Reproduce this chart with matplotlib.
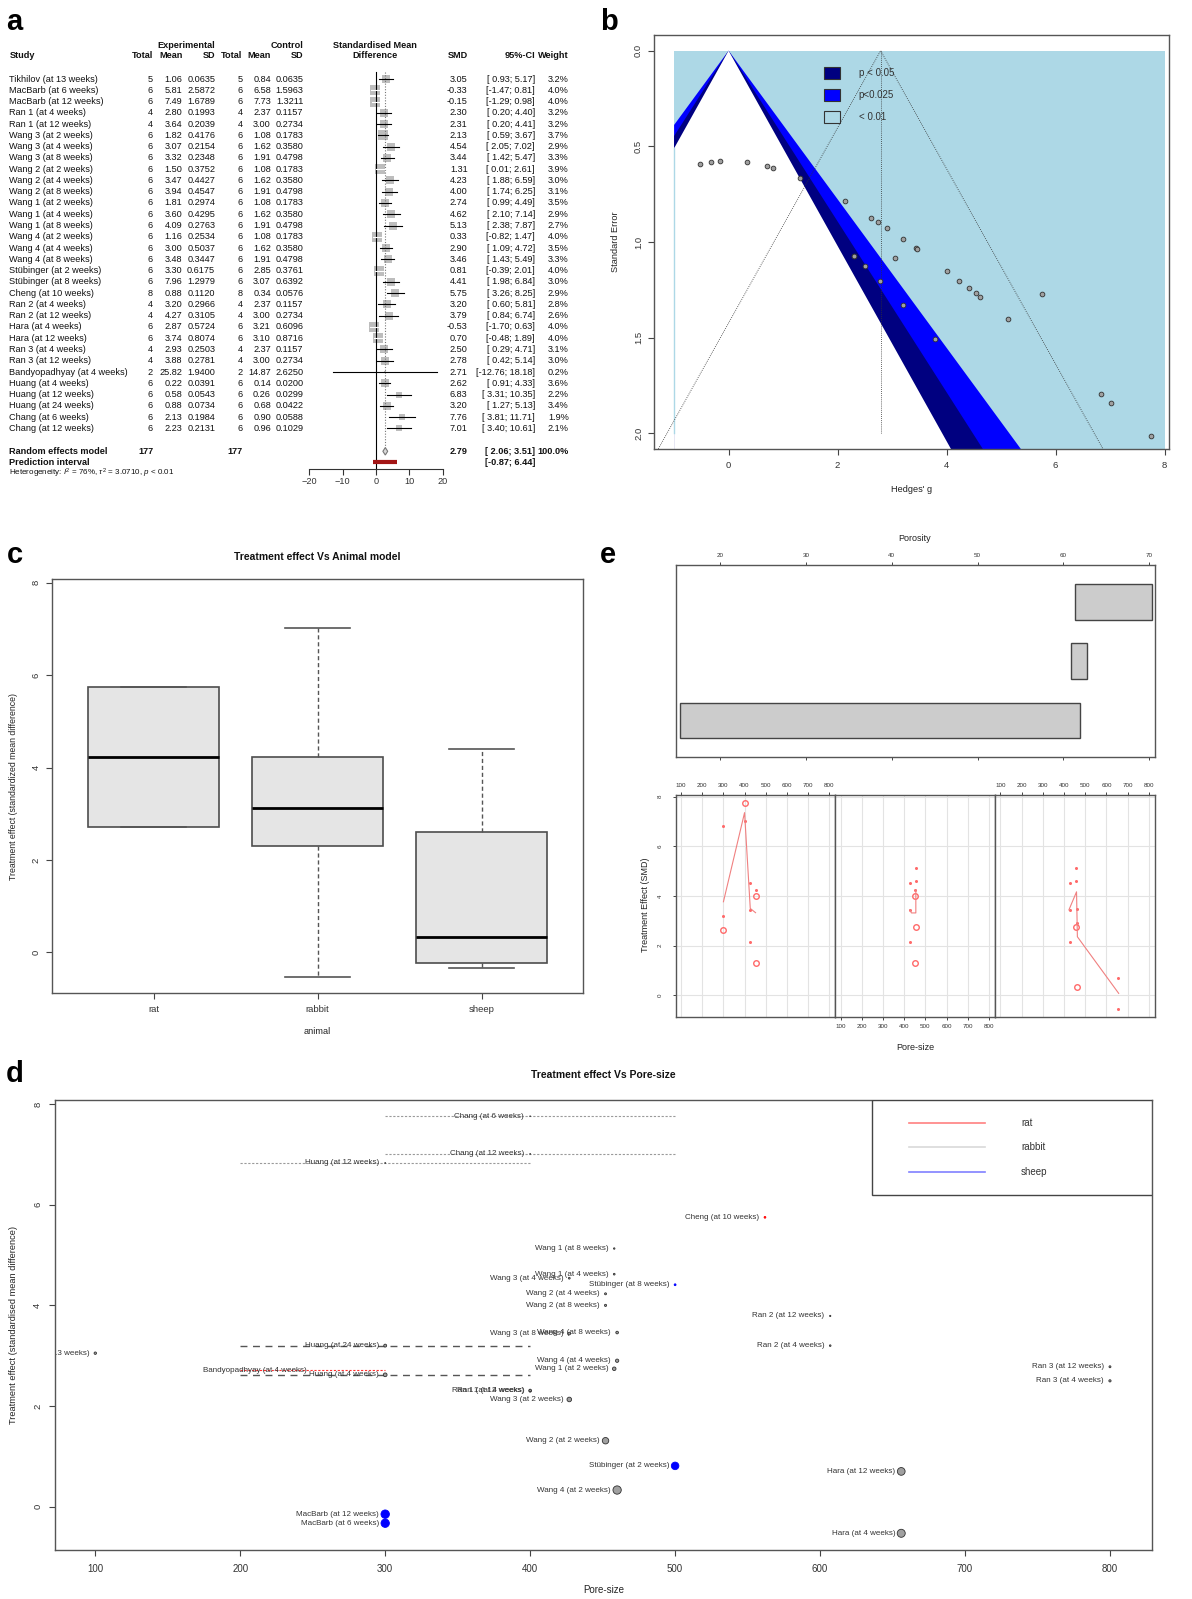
import numpy as np
import matplotlib
matplotlib.use("Agg")
import matplotlib.pyplot as plt
from matplotlib.patches import Rectangle, Polygon
from matplotlib.lines import Line2D
from matplotlib.transforms import offset_copy

plt.rcParams.update({
    "font.family": ["Liberation Sans", "DejaVu Sans"],
    "mathtext.fontset": "custom",
    "mathtext.rm": "Liberation Sans",
    "mathtext.it": "Liberation Sans:italic",
    "axes.edgecolor": "#555555",
    "axes.linewidth": 1.0,
    "xtick.color": "#444444",
    "ytick.color": "#444444",
    "xtick.labelcolor": "#333333",
    "ytick.labelcolor": "#333333",
})

# ------------------------------------------------------------------ data
STUDY = ["Tikhilov (at 13 weeks)", "MacBarb (at 6 weeks)", "MacBarb (at 12 weeks)",
         "Ran 1 (at 4 weeks)", "Ran 1 (at 12 weeks)", "Wang 3 (at 2 weeks)",
         "Wang 3 (at 4 weeks)", "Wang 3 (at 8 weeks)", "Wang 2 (at 2 weeks)",
         "Wang 2 (at 4 weeks)", "Wang 2 (at 8 weeks)", "Wang 1 (at 2 weeks)",
         "Wang 1 (at 4 weeks)", "Wang 1 (at 8 weeks)", "Wang 4 (at 2 weeks)",
         "Wang 4 (at 4 weeks)", "Wang 4 (at 8 weeks)", "Stübinger (at 2 weeks)",
         "Stübinger (at 8 weeks)", "Cheng (at 10 weeks)", "Ran 2 (at 4 weeks)",
         "Ran 2 (at 12 weeks)", "Hara (at 4 weeks)", "Hara (at 12 weeks)",
         "Ran 3 (at 4 weeks)", "Ran 3 (at 12 weeks)", "Bandyopadhyay (at 4 weeks)",
         "Huang (at 4 weeks)", "Huang (at 12 weeks)", "Huang (at 24 weeks)",
         "Chang (at 6 weeks)", "Chang (at 12 weeks)"]
EXP_N = [5, 6, 6, 4, 4, 6, 6, 6, 6, 6, 6, 6, 6, 6, 6, 6, 6, 6, 6, 8, 4, 4, 6, 6, 4, 4, 2, 6, 6, 6, 6, 6]
EXP_MEAN = [1.06, 5.81, 7.49, 2.80, 3.64, 1.82, 3.07, 3.32, 1.50, 3.47, 3.94, 1.81, 3.60, 4.09, 1.16, 3.00,
            3.48, 3.30, 7.96, 0.88, 3.20, 4.27, 2.87, 3.74, 2.93, 3.88, 25.82, 0.22, 0.58, 0.88, 2.13, 2.23]
EXP_SD = [0.0635, 2.5872, 1.6789, 0.1993, 0.2039, 0.4176, 0.2154, 0.2348, 0.3752, 0.4427, 0.4547,
          0.2974, 0.4295, 0.2763, 0.2534, 0.5037, 0.3447, 0.6175, 1.2979, 0.1120, 0.2966, 0.3105,
          0.5724, 0.8074, 0.2503, 0.2781, 1.9400, 0.0391, 0.0543, 0.0734, 0.1984, 0.2131]
CTL_N = [5, 6, 6, 4, 4, 6, 6, 6, 6, 6, 6, 6, 6, 6, 6, 6, 6, 6, 6, 8, 4, 4, 6, 6, 4, 4, 2, 6, 6, 6, 6, 6]
CTL_MEAN = [0.84, 6.58, 7.73, 2.37, 3.00, 1.08, 1.62, 1.91, 1.08, 1.62, 1.91, 1.08, 1.62, 1.91, 1.08, 1.62,
            1.91, 2.85, 3.07, 0.34, 2.37, 3.00, 3.21, 3.10, 2.37, 3.00, 14.87, 0.14, 0.26, 0.68, 0.90, 0.96]
CTL_SD = [0.0635, 1.5963, 1.3211, 0.1157, 0.2734, 0.1783, 0.3580, 0.4798, 0.1783, 0.3580, 0.4798,
          0.1783, 0.3580, 0.4798, 0.1783, 0.3580, 0.4798, 0.3761, 0.6392, 0.0576, 0.1157, 0.2734,
          0.6096, 0.8716, 0.1157, 0.2734, 2.6250, 0.0200, 0.0299, 0.0422, 0.0588, 0.1029]
SMD = [3.05, -0.33, -0.15, 2.30, 2.31, 2.13, 4.54, 3.44, 1.31, 4.23, 4.00, 2.74, 4.62, 5.13, 0.33, 2.90,
       3.46, 0.81, 4.41, 5.75, 3.20, 3.79, -0.53, 0.70, 2.50, 2.78, 2.71, 2.62, 6.83, 3.20, 7.76, 7.01]
CI_LO = [0.93, -1.47, -1.29, 0.20, 0.20, 0.59, 2.05, 1.42, 0.01, 1.88, 1.74, 0.99, 2.10, 2.38, -0.82, 1.09,
         1.43, -0.39, 1.98, 3.26, 0.60, 0.84, -1.70, -0.48, 0.29, 0.42, -12.76, 0.91, 3.31, 1.27, 3.81, 3.40]
CI_HI = [5.17, 0.81, 0.98, 4.40, 4.41, 3.67, 7.02, 5.47, 2.61, 6.59, 6.25, 4.49, 7.14, 7.87, 1.47, 4.72,
         5.49, 2.01, 6.84, 8.25, 5.81, 6.74, 0.63, 1.89, 4.71, 5.14, 18.18, 4.33, 10.35, 5.13, 11.71, 10.61]
WEIGHT = [3.2, 4.0, 4.0, 3.2, 3.2, 3.7, 2.9, 3.3, 3.9, 3.0, 3.1, 3.5, 2.9, 2.7, 4.0, 3.5, 3.3, 4.0, 3.0,
          2.9, 2.8, 2.6, 4.0, 4.0, 3.1, 3.0, 0.2, 3.6, 2.2, 3.4, 1.9, 2.1]
SE = [1.082, 0.582, 0.579, 1.071, 1.074, 0.786, 1.268, 1.033, 0.663, 1.202, 1.151, 0.893, 1.286, 1.401,
      0.584, 0.926, 1.036, 0.612, 1.240, 1.273, 1.329, 1.505, 0.594, 0.605, 1.128, 1.204, 7.893, 0.872,
      1.796, 0.985, 2.015, 1.839]
ANIMAL = ["rabbit", "sheep", "sheep"] + ["rabbit"] * 14 + ["sheep", "sheep", "rat"] + ["rabbit"] * 6 + \
         ["rat"] + ["rabbit"] * 5
PORE = [100, 300, 300, 400, 400, 427, 427, 427, 452, 452, 452, 458, 458, 458, 460, 460, 460, 500, 500,
        562, 607, 607, 656, 656, 800, 800, 250, 300, 300, 300, 400, 400]
PORE_LO = [None] * 26 + [200, 200, 200, 200, 300, 300]
PORE_HI = [None] * 26 + [300, 400, 400, 400, 500, 500]

RE_SMD, RE_LO, RE_HI = 2.79, 2.06, 3.51
PI_LO, PI_HI = -0.87, 6.44
HETERO = r"Heterogeneity: $I^2$ = 76%, $\tau^2$ = 3.0710, $p$ < 0.01"

ANIMALS = ["rat", "rabbit", "sheep"]

# porosity intervals (panel e, bottom to top) and coplot groups
POROSITY_LO = [15.3, 60.9, 61.3]
POROSITY_HI = [61.9, 62.7, 70.3]
E_GROUPS = [["Huang", "Chang", "Wang 3", "Wang 2"],
            ["Wang 1", "Wang 3", "Wang 2"],
            ["Wang 1", "Wang 3", "Wang 4", "Hara"]]
E_OPEN = ["Chang (at 6 weeks)", "Huang (at 4 weeks)", "Wang 2 (at 8 weeks)",
          "Wang 2 (at 2 weeks)", "Wang 1 (at 2 weeks)", "Wang 4 (at 2 weeks)"]
E_SMOOTH_X = [[300, 400, 427, 452], [427, 434, 455, 455], [423, 459, 463, 658]]
E_SMOOTH_Y = [[3.77, 7.36, 3.50, 3.33], [3.45, 3.32, 3.32, 4.25], [3.44, 4.17, 2.36, 0.08]]

# ------------------------------------------------------------------ layout helpers
W, H = 1192, 1599
fig = plt.figure(figsize=(W / 100, H / 100), dpi=100)


def add_ax(l, t, r, b):
    return fig.add_axes([l / W, 1 - b / H, (r - l) / W, (b - t) / H])


def ftext(x, y, s, **kw):
    kw.setdefault("ha", "center")
    kw.setdefault("va", "center")
    kw.setdefault("color", "#222222")
    return fig.text(x / W, 1 - y / H, s, **kw)


def label(x, y, s):
    ftext(x, y, s, fontsize=21, fontweight="bold", color="black", va="baseline")


# ---------------------------------------------------------------- panel a
label(14, 30, "a")
ROW0, DY = 79.0, 11.27
COLS = dict(en=153.1, em=182.5, esd=215.2, cn=242.7, cm=270.9, csd=303.6,
            smd=467.6, ci=535.0, w=568.8)
FS = 6.6


def ttext(x, y, s, ha="right", bold=False, size=FS):
    ftext(x, y, s, ha=ha, fontsize=size, color="#111111",
          fontweight="bold" if bold else "normal")


def ci_str(lo, hi):
    return f"[{lo:5.2f}; {hi:.2f}]"


ttext(COLS["esd"], 45, "Experimental", bold=True)
ttext(COLS["csd"], 45, "Control", bold=True)
ttext(375.1, 45, "Standardised Mean", ha="center", bold=True)
ttext(375.1, 56, "Difference", ha="center", bold=True)
ttext(9.4, 56, "Study", ha="left", bold=True)
for key, txt in (("en", "Total"), ("em", "Mean"), ("esd", "SD"), ("cn", "Total"),
                 ("cm", "Mean"), ("csd", "SD"), ("smd", "SMD"), ("ci", "95%-CI"),
                 ("w", "Weight")):
    ttext(COLS[key], 56, txt, bold=True)

for i, name in enumerate(STUDY):
    y = ROW0 + i * DY
    ttext(9.4, y, name, ha="left")
    ttext(COLS["en"], y, f"{EXP_N[i]}")
    ttext(COLS["em"], y, f"{EXP_MEAN[i]:.2f}")
    ttext(COLS["esd"], y, f"{EXP_SD[i]:.4f}")
    ttext(COLS["cn"], y, f"{CTL_N[i]}")
    ttext(COLS["cm"], y, f"{CTL_MEAN[i]:.2f}")
    ttext(COLS["csd"], y, f"{CTL_SD[i]:.4f}")
    ttext(COLS["smd"], y, f"{SMD[i]:.2f}")
    ttext(COLS["ci"], y, ci_str(CI_LO[i], CI_HI[i]))
    ttext(COLS["w"], y, f"{WEIGHT[i]:.1f}%")

Y_RE, Y_PI, Y_HET, Y_AXIS = 451.3, 462.3, 473.3, 469.0
ttext(9.4, Y_RE, "Random effects model", ha="left", bold=True)
ttext(COLS["en"], Y_RE, f"{sum(EXP_N)}", bold=True)
ttext(COLS["cn"], Y_RE, f"{sum(CTL_N)}", bold=True)
ttext(COLS["smd"], Y_RE, f"{RE_SMD:.2f}", bold=True)
ttext(COLS["ci"], Y_RE, ci_str(RE_LO, RE_HI), bold=True)
ttext(COLS["w"], Y_RE, "100.0%", bold=True)
ttext(9.4, Y_PI, "Prediction interval", ha="left", bold=True)
ttext(COLS["ci"], Y_PI, ci_str(PI_LO, PI_HI), bold=True)
ttext(9.4, Y_HET, HETERO, ha="left", size=5.8)


def row_of(ypx):
    return (ypx - ROW0) / DY


fa = add_ax(309.3, ROW0 - 0.7 * DY, 442.7, Y_AXIS)
fa.set_xlim(-20, 20)
fa.set_ylim(row_of(Y_AXIS), -0.7)
fa.patch.set_alpha(0)
px_per_unit = (442.7 - 309.3) / 40
for i in range(len(STUDY)):
    side = 9.4 * np.sqrt(WEIGHT[i] / 4.0)
    lc = "white" if (CI_HI[i] - CI_LO[i]) * px_per_unit < side else "black"
    fa.scatter(SMD[i], i, marker="s", s=(side * 0.72) ** 2, color="#BDBDBD",
               linewidths=0, zorder=2)
    fa.plot([CI_LO[i], CI_HI[i]], [i, i], color=lc, lw=0.8, zorder=3)
fa.plot([0, 0], [-0.6, row_of(Y_AXIS)], color="black", lw=0.8, clip_on=False)
fa.plot([RE_SMD, RE_SMD], [-0.6, row_of(Y_RE)], color="#777777", lw=0.8, ls=(0, (1, 1.5)))
r_re = row_of(Y_RE)
fa.add_patch(Polygon([[RE_LO, r_re], [RE_SMD, r_re - 0.33], [RE_HI, r_re], [RE_SMD, r_re + 0.33]],
                     closed=True, facecolor="#D9D9D9", edgecolor="#777777", lw=0.8, zorder=3))
fa.plot([PI_LO, PI_HI], [row_of(Y_PI)] * 2, color="#A31515", lw=3, solid_capstyle="butt")
for s in ("top", "right", "left"):
    fa.spines[s].set_visible(False)
fa.spines["bottom"].set_bounds(-20, 20)
fa.spines["bottom"].set_color("#333333")
fa.spines["bottom"].set_linewidth(0.8)
fa.set_yticks([])
fa.set_xticks([-20, -10, 0, 10, 20])
fa.tick_params(axis="x", length=4, width=0.8, labelsize=FS, pad=2, color="#333333")

# ---------------------------------------------------------------- panel b
label(608.6, 30, "b")
ab = add_ax(654.1, 35, 1168.9, 449)
ab.set_xlim(-1.367, 8.08)
ab.set_ylim(2.082, -0.082)
YMAX = 2.3
ab.add_patch(Rectangle((-1, 0), 9, YMAX, facecolor="lightblue", edgecolor="none", zorder=0))
for z, col in ((2.576, "blue"), (2.241, "navy"), (1.96, "white")):
    ab.add_patch(Polygon([[0, 0], [z * YMAX, YMAX], [-1, YMAX], [-1, 1 / z]], closed=True,
                         facecolor=col, edgecolor="none", zorder=1))
ab.plot([-1, -1], [0.51, 2.0], color="lightblue", lw=1.0, zorder=1.5)
ab.plot([RE_SMD - 1.96 * YMAX, RE_SMD, RE_SMD + 1.96 * YMAX], [YMAX, 0, YMAX],
        color="#333333", lw=0.6, ls=(0, (1, 1.5)), zorder=2)
ab.plot([RE_SMD, RE_SMD], [0, 2.0], color="#333333", lw=0.6, ls=(0, (1, 1.5)), zorder=2)
ab.plot(SMD, SE, "o", ms=3.4, mfc="#A0A0A0", mec="#303030", mew=0.6, zorder=3)
ab.set_xticks([0, 2, 4, 6, 8])
ab.set_yticks([0, 0.5, 1.0, 1.5, 2.0], ["0.0", "0.5", "1.0", "1.5", "2.0"], rotation=90, va="center")
ab.tick_params(labelsize=6.8, length=4, width=0.8, pad=5)
ab.tick_params(axis="y", pad=4)
bw, bh = 514.8, 414.0
for (yc, col, txt) in ((72.7, "navy", "p < 0.05"), (95.0, "blue", "p<0.025"), (116.7, "lightblue", "< 0.01")):
    yf = 1 - (yc - 35) / bh
    ab.add_patch(Rectangle(((824.2 - 654.1) / bw, yf - 6 / bh), 16 / bw, 12 / bh,
                           transform=ab.transAxes, facecolor=col, edgecolor="#333333", lw=0.8, zorder=4))
    ab.text((858.7 - 654.1) / bw, yf, txt, transform=ab.transAxes, fontsize=7, va="center",
            color="#333333", zorder=4)
ftext(615, 241.7, "Standard Error", rotation=90, fontsize=6.6)
ftext(911.5, 489, "Hedges' g", fontsize=6.6)

# ---------------------------------------------------------------- panel c
label(14.5, 563, "c")


def tukey_stats(vals, name):
    v = np.sort(np.asarray(vals))
    n = len(v)
    q1, q3 = np.median(v[:(n + 1) // 2]), np.median(v[n // 2:])
    iqr = q3 - q1
    return dict(med=np.median(v), q1=q1, q3=q3, fliers=[], label=name,
                whislo=v[v >= q1 - 1.5 * iqr].min(), whishi=v[v <= q3 + 1.5 * iqr].max())


ac = add_ax(52, 579.3, 583.2, 992.7)
stats = [tukey_stats([SMD[i] for i in range(len(SMD)) if ANIMAL[i] == a], a) for a in ANIMALS]
ac.bxp(stats, positions=[1, 2, 3], widths=0.8, patch_artist=True, showfliers=False, capwidths=0.4,
       boxprops=dict(facecolor="#E5E5E5", edgecolor="#4D4D4D", lw=1.2),
       medianprops=dict(color="black", lw=2.0),
       whiskerprops=dict(color="#555555", lw=1.0, ls=(0, (3, 2))),
       capprops=dict(color="#555555", lw=1.2))
ac.set_xlim(0.381, 3.62)
ac.set_ylim(-0.874, 8.074)
ac.set_yticks([0, 2, 4, 6, 8], ["0", "2", "4", "6", "8"], rotation=90, va="center")
ac.tick_params(labelsize=6.8, length=4, width=0.8, pad=5)
ac.tick_params(axis="y", pad=4)
ftext(317.6, 556.7, "Treatment effect Vs Animal model", fontsize=7.5, fontweight="bold", color="#111111")
ftext(13.4, 786, "Treatment effect (standardized mean difference)", rotation=90, fontsize=6.3)
ftext(317.6, 1032, "animal", fontsize=6.6)

# ---------------------------------------------------------------- panel e
label(608, 563, "e")
ae = add_ax(675.9, 564.7, 1154.9, 756.7)
ae.barh([1, 2, 3], np.subtract(POROSITY_HI, POROSITY_LO), left=POROSITY_LO, height=0.6,
        color="#CCCCCC", edgecolor="#444444", lw=1.0)
ae.set_xlim(14.86, 70.65)
ae.set_ylim(0.39, 3.625)
ae.set_yticks([])
ae.set_xticks([20, 30, 40, 50, 60, 70])
ae.tick_params(axis="x", top=True, labeltop=True, bottom=True, labelbottom=False,
               length=2.5, width=0.7, labelsize=4.5, pad=2.5)
ftext(914.5, 538.3, "Porosity", fontsize=6.5)

edges = [675.9, 835.2, 995.2, 1154.9]
for k in range(3):
    ax = add_ax(edges[k], 795, edges[k + 1], 1016.7)
    ax.set_xlim(75, 829)
    ax.set_ylim(-0.86, 8.07)
    ax.set_xticks(range(100, 900, 100))
    ax.set_yticks(range(0, 9, 2))
    ax.grid(color="#E3E3E3", lw=0.8)
    ax.set_axisbelow(True)
    if k == 1:
        ax.tick_params(axis="x", length=2.5, width=0.7, labelsize=4.5, pad=2.5)
    else:
        ax.tick_params(axis="x", top=True, labeltop=True, bottom=False, labelbottom=False,
                       length=2.5, width=0.7, labelsize=4.5, pad=2.5)
    if k == 0:
        ax.set_yticks(range(0, 9, 2), [str(v) for v in range(0, 9, 2)], rotation=90, va="center")
        ax.tick_params(axis="y", length=2.5, width=0.7, labelsize=4.5, pad=7)
    else:
        ax.tick_params(axis="y", left=False, labelleft=False)
    idx = [i for i, s in enumerate(STUDY) if s.split(" (")[0] in E_GROUPS[k]]
    filled = [i for i in idx if STUDY[i] not in E_OPEN]
    hollow = [i for i in idx if STUDY[i] in E_OPEN]
    ax.plot([PORE[i] for i in filled], [SMD[i] for i in filled], "o", ms=2.2,
            color="#FF6A6A", mew=0)
    ax.plot([PORE[i] for i in hollow], [SMD[i] for i in hollow], "o", ms=4.0,
            mfc="none", mec="#FF6A6A", mew=1.0)
    ax.plot(E_SMOOTH_X[k], E_SMOOTH_Y[k], color="#F08080", lw=0.8)
ftext(645.3, 905, "Treatment Effect (SMD)", rotation=90, fontsize=6.5)
ftext(915.4, 1048, "Pore-size", fontsize=6.5)

# ---------------------------------------------------------------- panel d
label(14.7, 1082, "d")
ad = add_ax(54.7, 1099.6, 1152, 1550.4)
ad.set_xlim(72, 829)
ad.set_ylim(-0.87, 8.09)
RANGE_STYLE = {
    "Bandyopadhyay (at 4 weeks)": dict(color="#FF3030", lw=0.8, ls=(0, (2, 1.5))),
    "Huang (at 4 weeks)": dict(color="#555555", lw=1.0, ls=(0, (5, 4))),
    "Huang (at 24 weeks)": dict(color="#555555", lw=1.0, ls=(0, (5, 4))),
    "Huang (at 12 weeks)": dict(color="#9A9A9A", lw=0.8, ls=(0, (2, 1.5))),
    "Chang (at 6 weeks)": dict(color="#9A9A9A", lw=0.8, ls=(0, (2, 1.5))),
    "Chang (at 12 weeks)": dict(color="#9A9A9A", lw=0.8, ls=(0, (2, 1.5))),
}
for i, s in enumerate(STUDY):
    if PORE_LO[i] is not None:
        ad.plot([PORE_LO[i], PORE_HI[i]], [SMD[i], SMD[i]], zorder=1, **RANGE_STYLE[s])
FACE = {"rat": "#FF0000", "rabbit": "#A0A0A0", "sheep": "#0000FF"}
EDGE = {"rat": "#FF0000", "rabbit": "#303030", "sheep": "#0000FF"}
sizes = [(2.83 / se ** 2 * 0.72) ** 2 for se in SE]
ad.scatter(PORE, SMD, s=sizes, c=[FACE[a] for a in ANIMAL], edgecolors=[EDGE[a] for a in ANIMAL],
           linewidths=0.6, zorder=3)
trans = offset_copy(ad.transData, fig=fig, x=-6, y=0, units="dots")
for i, s in enumerate(STUDY):
    ad.text(PORE[i], SMD[i], s, transform=trans, ha="right", va="center", fontsize=5.8,
            color="#333333", clip_on=True, zorder=2)
ad.set_xticks(range(100, 900, 100))
ad.set_yticks([0, 2, 4, 6, 8], ["0", "2", "4", "6", "8"], rotation=90, va="center")
ad.tick_params(axis="x", labelsize=7, length=4, width=0.8, pad=6)
ad.tick_params(axis="y", labelsize=6.8, length=4, width=0.8, pad=5)
aw, ah = 1152 - 54.7, 1550.4 - 1099.6
ad.add_patch(Rectangle(((872.2 - 54.7) / aw, 1 - (1195 - 1099.6) / ah), (1152 - 872.2) / aw,
                       (1195 - 1099.6) / ah, transform=ad.transAxes, facecolor="white",
                       edgecolor="#444444", lw=1.0, zorder=4))
for yc, a, col in ((1123, "rat", "#FF8080"), (1147.1, "rabbit", "#D9D9D9"), (1171.6, "sheep", "#8080FF")):
    yf = 1 - (yc - 1099.6) / ah
    ad.add_line(Line2D([(909 - 54.7) / aw, (984.6 - 54.7) / aw], [yf, yf], transform=ad.transAxes,
                       color=col, lw=1.2, zorder=5))
    ad.text((1021 - 54.7) / aw, yf, a, transform=ad.transAxes, fontsize=7, va="center",
            color="#333333", zorder=5)
ftext(603.4, 1075.5, "Treatment effect Vs Pore-size", fontsize=7.5, fontweight="bold", color="#111111")
ftext(603.4, 1590, "Pore-size", fontsize=7)
ftext(13.4, 1325, "Treatment effect (standardised mean difference)", rotation=90, fontsize=6.7)

fig.savefig("out.png", dpi=100)
